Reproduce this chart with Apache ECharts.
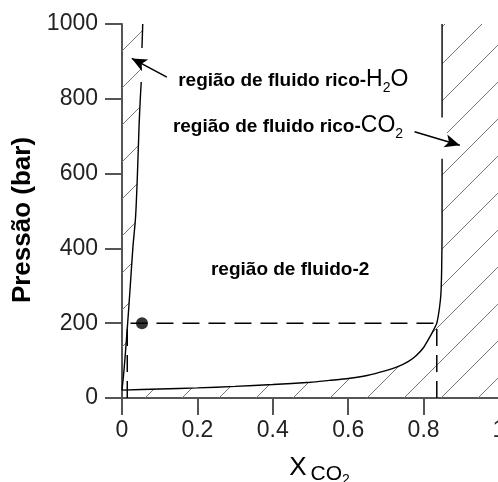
<!DOCTYPE html>
<html>
<head>
<meta charset="utf-8">
<script src="https://cdn.jsdelivr.net/npm/echarts@6/dist/echarts.min.js"></script>
<style>
html,body{margin:0;padding:0;background:#fff;}
#chart{width:498px;height:482px;}
</style>
</head>
<body>
<div id="chart"></div>
<script>
// ticks dos eixos
var xTicks = [0, 0.2, 0.4, 0.6, 0.8, 1];
var pTicks = [0, 200, 400, 600, 800, 1000];

// limite do campo de fluido rico-H2O [X_CO2, P]; null = interrupção da curva (seta)
var h2oBoundary = [[0, 21], [0.004, 60], [0.009, 120], [0.015, 200], [0.022, 300], [0.029, 404],
	[0.036, 484], [0.041, 600], [0.045, 720], [0.048, 790], [0.051, 845], [0.052, null], [0.053, 936], [0.055, 1000]];
// limite do campo de fluido rico-CO2
var co2Boundary = [[0, 21], [0.1, 24], [0.2, 27], [0.3, 31], [0.4, 36], [0.5, 42], [0.55, 47], [0.6, 52],
	[0.65, 60], [0.7, 73], [0.73, 83], [0.76, 98], [0.78, 113], [0.8, 135], [0.817, 164], [0.828, 185],
	[0.835, 200], [0.842, 240], [0.846, 280], [0.848, 350], [0.849, 450], [0.849, 640], [0.849, null],
	[0.849, 750], [0.849, 1000]];
// linha de amarração a 200 bar
var tieLine = [[0.014, 0], [0.014, 200], [0.835, 200], [0.835, 0]];
var bulkPoint = [[0.053, 200]];
// setas (cauda, ponta)
var arrowH2O = [[0.119, 858], [0.026, 908]];
var arrowCO2 = [[0.776, 712], [0.896, 676]];

var FONT = "'Liberation Sans', Arial, sans-serif";

var diagrama = {
	init : function(){
		var myChart = echarts.init(document.getElementById('chart'));
		myChart.setOption(diagrama.options());
	},

	// padrão de hachura diagonal
	hachura : function(){
		var s = 37, c = document.createElement('canvas');
		c.width = s; c.height = s;
		var ctx = c.getContext('2d');
		ctx.strokeStyle = '#777';
		ctx.lineWidth = 1;
		[25, 25 + s].forEach(function(k){
			ctx.beginPath();
			ctx.moveTo(k - s, s);
			ctx.lineTo(k, 0);
			ctx.stroke();
		});
		return c;
	},

	// polígono hachurado a partir de uma curva + vértices de fecho
	poligono : function(curve, extra, pattern){
		return function(params, api){
			var pts = [];
			curve.concat(extra).forEach(function(p){
				if (p[1] != null) pts.push(api.coord(p));
			});
			return {
				type: 'polygon',
				shape: { points: pts },
				style: { fill: { image: pattern, repeat: 'repeat' }, stroke: null }
			};
		};
	},

	textos : function(params, api){
		// tokens alinhados ao topo; o padding superior desloca o índice para baixo
		var bold = { fontSize: 19, fontWeight: 'bold', fontFamily: FONT, fill: '#000', verticalAlign: 'top', padding: [3, 0, 0, 0] };
		var norm = { fontSize: 23, fontFamily: FONT, fill: '#000', verticalAlign: 'top' };
		var sub = { fontSize: 14, fontFamily: FONT, fill: '#000', verticalAlign: 'top', padding: [13, 0, 0, 0] };
		var rich = { b: bold, n: norm, s: sub };
		var p1 = api.coord([0.149, 881]), p2 = api.coord([0.135, 758]), p3 = api.coord([0.446, 342]);
		return {
			type: 'group',
			children: [
				{ type: 'text', x: p1[0], y: p1[1], style: { text: '{b|região de fluido rico-}{n|H}{s|2}{n|O}', rich: rich, align: 'left', verticalAlign: 'top' } },
				{ type: 'text', x: p2[0], y: p2[1], style: { text: '{b|região de fluido rico-}{n|CO}{s|2}', rich: rich, align: 'left', verticalAlign: 'top' } },
				{ type: 'text', x: p3[0], y: p3[1], style: { text: 'região de fluido-2', fontSize: 19, fontWeight: 'bold', fontFamily: FONT, fill: '#000', align: 'center', verticalAlign: 'middle' } }
			]
		};
	},

	seta : function(a){
		return [{ coord: a[0], symbol: 'none' }, { coord: a[1], symbol: 'arrow' }];
	},

	options : function(){
		var pattern = diagrama.hachura();
		var eixo = { color: '#555', width: 2 };
		var option = {
			animation: false,
			grid: { left: 122, top: 24, width: 377, height: 374, containLabel: false, outerBoundsMode: 'none' },
			xAxis: [
				{
					type: 'value',
					min: xTicks[0], max: xTicks[xTicks.length - 1], interval: xTicks[1] - xTicks[0],
					axisLine: { show: true, onZero: false, lineStyle: eixo },
					axisTick: { show: true, length: 17, lineStyle: eixo },
					splitLine: { show: false },
					axisLabel: { fontSize: 23, color: '#222', fontFamily: FONT, margin: 21 },
					name: '{x|X}{c|CO}{s|2}',
					nameLocation: 'middle',
					nameGap: 57,
					nameTextStyle: {
						rich: {
							x: { fontSize: 26, fontFamily: FONT, color: '#000', verticalAlign: 'top', padding: [0, 0, 0, 18] },
							c: { fontSize: 21, fontFamily: FONT, color: '#000', verticalAlign: 'top', padding: [9, 0, 0, 4] },
							s: { fontSize: 14, fontFamily: FONT, color: '#000', verticalAlign: 'top', padding: [18, 0, 0, 0] }
						}
					}
				},
				{
					type: 'value', position: 'top', min: 0, max: 1,
					axisLine: { show: true, lineStyle: eixo },
					axisTick: { show: false }, axisLabel: { show: false }, splitLine: { show: false }
				}
			],
			yAxis: {
				type: 'value',
				min: pTicks[0], max: pTicks[pTicks.length - 1], interval: pTicks[1] - pTicks[0],
				axisLine: { show: true, onZero: false, lineStyle: eixo },
				axisTick: { show: true, length: 17, lineStyle: eixo },
				splitLine: { show: false },
				axisLabel: { fontSize: 23, color: '#222', fontFamily: FONT, margin: 24, formatter: function(v){ return String(v); } },
				name: 'Pressão (bar)',
				nameLocation: 'middle',
				nameGap: 80,
				nameTextStyle: { fontSize: 26, fontWeight: 'bold', color: '#000', fontFamily: FONT, padding: [0, 18, 0, 0] }
			},
			series: [
				{
					name: 'hachura H2O', type: 'custom', silent: true, z: 1,
					renderItem: diagrama.poligono(h2oBoundary, [[0, 1000]], pattern),
					data: [[0, 0]]
				},
				{
					name: 'hachura CO2', type: 'custom', silent: true, z: 1,
					renderItem: diagrama.poligono(co2Boundary, [[1, 1000], [1, 0], [0, 0]], pattern),
					data: [[0, 0]]
				},
				{
					name: 'amarração', type: 'line', data: tieLine, showSymbol: false, silent: true, z: 2,
					lineStyle: { color: '#000', width: 1.5, type: [17, 9] },
					markLine: {
						silent: true, z: 4, symbol: 'none', label: { show: false },
						lineStyle: { color: '#fff', width: 16, type: 'solid', cap: 'round' },
						data: [[{ coord: arrowCO2[0] }, { coord: arrowCO2[1] }]]
					}
				},
				{
					name: 'rico-H2O', type: 'line', data: h2oBoundary, showSymbol: false, silent: true, z: 3,
					smooth: 0.3, connectNulls: false,
					lineStyle: { color: '#000', width: 1.4 }
				},
				{
					name: 'rico-CO2', type: 'line', data: co2Boundary, showSymbol: false, silent: true, z: 3,
					smooth: 0.2, connectNulls: false,
					lineStyle: { color: '#000', width: 1.4 },
					markLine: {
						silent: true, z: 6, symbolSize: [10, 15], label: { show: false },
						lineStyle: { color: '#000', width: 1.5, type: 'solid' },
						data: [diagrama.seta(arrowH2O), diagrama.seta(arrowCO2)]
					}
				},
				{
					name: 'composição', type: 'scatter', data: bulkPoint, symbolSize: 12, silent: true, z: 5,
					itemStyle: { color: '#000' }
				},
				{
					name: 'textos', type: 'custom', silent: true, z: 7,
					renderItem: diagrama.textos,
					data: [[0, 0]]
				}
			]
		};
		return option;
	}
};

diagrama.init();
</script>
</body>
</html>
